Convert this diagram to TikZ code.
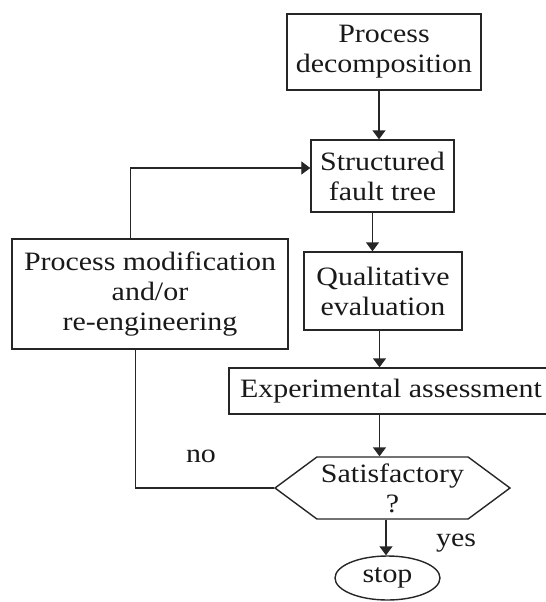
\documentclass[tikz,border=0pt]{standalone}
\usepackage{fontspec}
\setmainfont{Liberation Serif}[FakeStretch=1.13]
\usetikzlibrary{shapes,arrows.meta,positioning}

\begin{document}
\begin{tikzpicture}[
    x=0.5pt, y=-0.5pt,
    every node/.style={font=\fontsize{13.25}{15}\selectfont, text=black!90},
    box/.style={rectangle, draw=black!85, line width=0.7pt, align=center, inner sep=2pt},
    flow/.style={draw=black!85, line width=0.7pt, -{Triangle[length=4.5pt,width=6.5pt]}},
    link/.style={draw=black!85, line width=0.7pt}
]
\useasboundingbox (0,0) rectangle (546,602);

% Decomposition and fault tree
\node (decomp) at (384,52) [box, minimum width=97pt, minimum height=38pt] {Process\\decomposition};
\node (fault) at (382.5,176) [box, minimum width=71.5pt, minimum height=36pt] {Structured\\fault tree};
\node (qual) at (383,291) [box, minimum width=79pt, minimum height=39pt] {Qualitative\\evaluation};

% Modification (loop back)
\node (modif) at (150,294) [box, minimum width=138pt, minimum height=55pt] {Process modification\\and/or\\re-engineering};

% Assessment and decision
\node (exper) at (391,391) [box, minimum width=162pt, minimum height=23pt] {Experimental assessment};
\node (satis) at (392.5,488) [signal, signal to=west and east, signal pointer angle=73,
    draw=black!85, line width=0.7pt, align=center, inner sep=1pt,
    minimum width=117.5pt, minimum height=31pt] {Satisfactory\\?};
\node (stop) at (387.5,578) [ellipse, draw=black!85, line width=0.7pt,
    minimum width=52.5pt, minimum height=22pt, inner sep=1pt] {stop};

% Labels
\node (no) at (201,456) {no};
\node (yes) at (456,543) {yes};

% Connectors
\draw[flow] ([xshift=-2.5pt]decomp.south) -- ([xshift=-2.5pt]decomp.south |- fault.north);
\draw[flow] ([xshift=-5pt]fault.south) -- ([xshift=-5pt]fault.south |- qual.north);
\draw[flow] ([xshift=-1.75pt]qual.south) -- ([xshift=-1.75pt]qual.south |- exper.north);
\draw[flow] ([xshift=-6.5pt]satis.north |- exper.south) -- ([xshift=-6.5pt]satis.north);
\draw[flow] ([xshift=-3.25pt]satis.south) -- ([xshift=-3.25pt]satis.south |- stop.north);
\draw[link] ([xshift=-7.1pt]modif.south) |- (satis.west);
\draw[flow] ([xshift=-9.7pt]modif.north) |- ([yshift=4pt]fault.west);

\end{tikzpicture}
\end{document}
